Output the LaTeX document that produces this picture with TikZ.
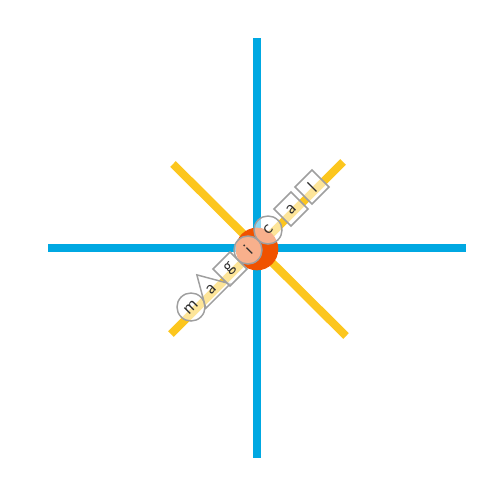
\documentclass[tikz,border=0pt]{standalone}
\usetikzlibrary{shapes.geometric}
\definecolor{cblue}{RGB}{0,168,226}
\definecolor{cyel}{RGB}{252,198,30}
\definecolor{corange}{RGB}{240,82,0}
\tikzset{
  letter/.style={draw=gray!75, line width=1.1pt, fill=white, fill opacity=0.55, draw opacity=1, text opacity=1,
    text=gray!35!black, font=\sffamily\fontsize{14}{14}\selectfont, rotate=45, inner sep=0pt},
  lcirc/.style={letter, circle, minimum size=21pt},
  ltri/.style={letter, regular polygon, regular polygon sides=3, minimum size=30pt},
  lsq/.style={letter, rectangle, minimum size=18pt},
}
\begin{document}
\begin{tikzpicture}[x=0.75pt,y=-0.75pt]
\useasboundingbox (0,0) rectangle (498,500);
\coordinate (vt) at (257,38);
\coordinate (vb) at (257,458);
\coordinate (hl) at (48,248);
\coordinate (hr) at (466,248);
\coordinate (y1a) at (173,164);
\coordinate (y1b) at (346,336);
\coordinate (y2a) at (343,162);
\coordinate (y2b) at (171,334);
\draw[cblue, line width=5.5pt] (vt) -- (vb);
\draw[cblue, line width=5.5pt] (hl) -- (hr);
\draw[cyel, line width=6pt] (y1a) -- (y1b);
\draw[cyel, line width=6pt] (y2a) -- (y2b);
\node[circle, fill=corange, minimum size=32pt, inner sep=0pt] (c) at (257,249) {};
\node[lcirc] (l1) at (191,307) {m};
\node[ltri] (l2) at (211,289) {a};
\node[lsq] (l3) at (230,269) {g};
\node[lcirc] (l4) at (248,250) {i};
\node[lcirc] (l5) at (268,230) {c};
\node[lsq] (l6) at (291,209) {a};
\node[lsq] (l7) at (312,187) {l};
\end{tikzpicture}
\end{document}
